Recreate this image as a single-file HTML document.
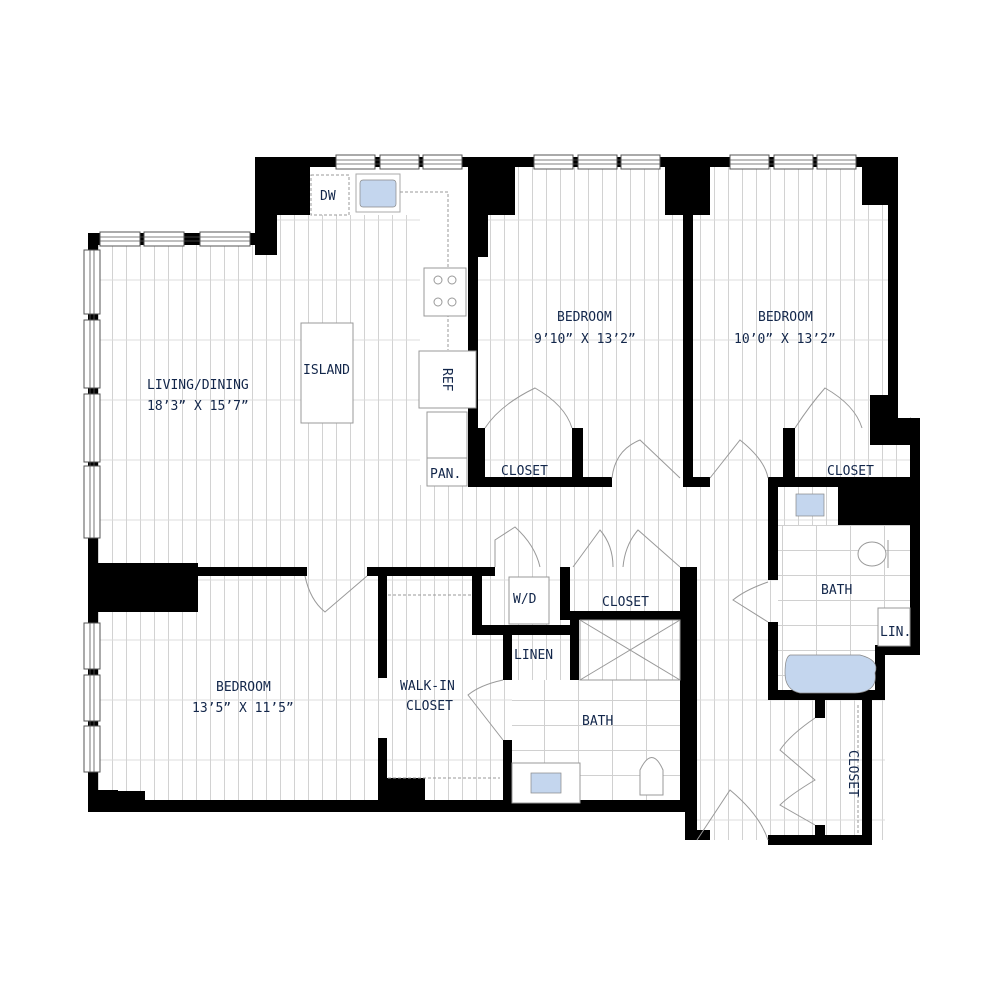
<!DOCTYPE html><html><head><style>body{margin:0;background:#fff}svg{display:block}text{font-family:"DejaVu Sans Mono","Liberation Mono",monospace;fill:#12264a;font-size:13px}</style></head><body>
<svg width="1000" height="1000" viewBox="0 0 1000 1000" xmlns="http://www.w3.org/2000/svg">
<defs>
<pattern id="pl" width="14" height="120" patternUnits="userSpaceOnUse"><rect width="14" height="120" fill="#fff"/><line x1="0.5" y1="0" x2="0.5" y2="120" stroke="#d2d2d2"/><line x1="0" y1="40" x2="14" y2="40" stroke="#dcdcdc"/></pattern>
<pattern id="pl2" width="28" height="120" patternUnits="userSpaceOnUse"><line x1="14.5" y1="0" x2="14.5" y2="120" stroke="#d2d2d2"/><line x1="0" y1="100" x2="28" y2="100" stroke="#dcdcdc"/></pattern>
<pattern id="tile" width="34" height="25" patternUnits="userSpaceOnUse"><rect width="34" height="25" fill="#fff"/><path d="M0 0.5H34M0.5 0V25" stroke="#d0d0d0"/></pattern>
</defs>
<rect x="95" y="165" width="820" height="675" fill="url(#pl)"/>
<rect x="95" y="165" width="820" height="675" fill="url(#pl2)"/>
<rect x="310" y="167" width="158" height="48" fill="#fff"/>
<rect x="420" y="215" width="48" height="270" fill="#fff"/>
<rect x="778" y="525" width="135" height="165" fill="url(#tile)"/>
<rect x="512" y="680" width="170" height="122" fill="url(#tile)"/>
<rect x="0" y="0" width="1000" height="157" fill="#fff"/>
<rect x="0" y="812" width="685" height="188" fill="#fff"/>
<rect x="0" y="845" width="1000" height="155" fill="#fff"/>
<rect x="0" y="0" width="88" height="1000" fill="#fff"/>
<rect x="920" y="0" width="80" height="1000" fill="#fff"/>
<rect x="898" y="157" width="22" height="260" fill="#fff"/>
<rect x="710" y="840" width="160" height="10" fill="#fff"/>
<rect x="885" y="655" width="40" height="200" fill="#fff"/>
<rect x="95" y="157" width="160" height="76" fill="#fff"/>
<g fill="#000">
<rect x="255" y="157" width="230" height="10"/>
<rect x="255" y="157" width="55" height="58"/>
<rect x="255" y="157" width="22" height="98"/>
<rect x="88" y="233" width="170" height="12"/>
<rect x="88" y="233" width="10" height="579"/>
<rect x="88" y="563" width="110" height="49"/>
<rect x="197" y="567" width="110" height="9"/>
<rect x="367" y="567" width="128" height="9"/>
<rect x="88" y="790" width="30" height="22"/>
<rect x="88" y="800" width="602" height="12"/>
<rect x="110" y="791" width="35" height="12"/>
<rect x="378" y="575" width="9" height="103"/>
<rect x="378" y="738" width="9" height="70"/>
<rect x="378" y="778" width="47" height="30"/>
<rect x="468" y="157" width="47" height="58"/>
<rect x="468" y="157" width="20" height="100"/>
<rect x="468" y="157" width="10" height="330"/>
<rect x="468" y="157" width="220" height="10"/>
<rect x="683" y="157" width="10" height="330"/>
<rect x="665" y="157" width="45" height="58"/>
<rect x="683" y="157" width="215" height="10"/>
<rect x="862" y="157" width="36" height="48"/>
<rect x="888" y="157" width="10" height="260"/>
<rect x="870" y="395" width="28" height="50"/>
<rect x="870" y="418" width="50" height="27"/>
<rect x="910" y="418" width="10" height="237"/>
<rect x="468" y="477" width="144" height="10"/>
<rect x="475" y="428" width="10" height="58"/>
<rect x="572" y="428" width="11" height="50"/>
<rect x="683" y="477" width="27" height="10"/>
<rect x="770" y="477" width="150" height="10"/>
<rect x="783" y="428" width="12" height="55"/>
<rect x="838" y="477" width="82" height="48"/>
<rect x="768" y="477" width="10" height="103"/>
<rect x="768" y="622" width="10" height="78"/>
<rect x="768" y="690" width="117" height="10"/>
<rect x="875" y="645" width="10" height="55"/>
<rect x="875" y="645" width="45" height="10"/>
<rect x="862" y="690" width="10" height="155"/>
<rect x="768" y="835" width="104" height="10"/>
<rect x="815" y="700" width="10" height="18"/>
<rect x="815" y="825" width="10" height="15"/>
<rect x="685" y="567" width="12" height="273"/>
<rect x="685" y="830" width="25" height="10"/>
<rect x="472" y="567" width="10" height="68"/>
<rect x="472" y="625" width="100" height="10"/>
<rect x="560" y="567" width="10" height="52"/>
<rect x="560" y="611" width="130" height="9"/>
<rect x="680" y="567" width="10" height="240"/>
<rect x="503" y="635" width="9" height="45"/>
<rect x="570" y="615" width="9" height="65"/>
<rect x="503" y="740" width="9" height="68"/>
</g>
<g fill="#fff" stroke="#555" stroke-width="1">
<rect x="336" y="155" width="39" height="14"/><rect x="380" y="155" width="39" height="14"/><rect x="423" y="155" width="39" height="14"/>
<rect x="534" y="155" width="39" height="14"/><rect x="578" y="155" width="39" height="14"/><rect x="621" y="155" width="39" height="14"/>
<rect x="730" y="155" width="39" height="14"/><rect x="774" y="155" width="39" height="14"/><rect x="817" y="155" width="39" height="14"/>
<rect x="100" y="232" width="40" height="14"/><rect x="144" y="232" width="40" height="14"/><rect x="200" y="232" width="50" height="14"/>
<rect x="84" y="250" width="16" height="64"/><rect x="84" y="320" width="16" height="68"/><rect x="84" y="394" width="16" height="68"/><rect x="84" y="466" width="16" height="72"/>
<rect x="84" y="623" width="16" height="46"/><rect x="84" y="675" width="16" height="46"/><rect x="84" y="726" width="16" height="46"/>
</g>
<g stroke="#555" stroke-width="0.8">
<path d="M336 160H462M336 164H462M534 160H660M534 164H660M730 160H856M730 164H856M100 237H250M100 241H250"/>
<path d="M90 250V538M94 250V538M90 623V772M94 623V772"/>
</g>
<g fill="none" stroke="#999" stroke-width="1">
<rect x="311" y="175" width="38" height="40" stroke-dasharray="3,2"/>
<rect x="356" y="174" width="44" height="38" stroke="#aaa"/>
<path d="M400 192H448V350" stroke-dasharray="3,2"/>
<rect x="424" y="268" width="42" height="48" fill="#fff"/>
<circle cx="438" cy="280" r="4"/><circle cx="452" cy="280" r="4"/><circle cx="438" cy="302" r="4"/><circle cx="452" cy="302" r="4"/>
<rect x="301" y="323" width="52" height="100" fill="#fff"/>
<rect x="419" y="351" width="57" height="57" fill="#fff"/>
<rect x="427" y="412" width="40" height="48" fill="#fff"/>
<rect x="427" y="458" width="40" height="28" fill="#fff"/>
<path d="M580 620H680V680H580ZM580 620L680 680M580 680L680 620"/>
<rect x="509" y="577" width="40" height="47" fill="#fff"/>
<rect x="512" y="763" width="68" height="40" fill="#fff"/>
<path d="M640 795V770Q652 745 663 770V795Z" fill="#fff"/>
<path d="M888 540V568"/><ellipse cx="872" cy="554" rx="14" ry="12" fill="#fff"/>
<rect x="878" y="608" width="32" height="38" fill="#fff"/>
<path d="M388 595H472M388 778H500M858 705V835" stroke-dasharray="3,2"/>
<path d="M305 576Q310 600 325 612L367 576M495 567V540L515 527Q535 545 540 567M573 567L600 530Q613 545 613 567M623 567Q625 545 638 530L680 567M612 478Q615 450 640 440L680 478M710 478L740 440Q765 460 768 478M485 428Q500 405 535 388Q565 405 572 428M795 428Q810 405 825 388Q855 405 862 428M768 582Q745 590 733 600L768 622M503 680Q480 685 468 695L503 740M815 718Q790 735 780 750L815 780Q790 795 780 805L815 825M697 840L730 790Q760 815 768 840"/>
</g>
<g fill="#c4d6ee" stroke="#888" stroke-width="0.7">
<rect x="360" y="180" width="36" height="27" rx="3"/>
<rect x="796" y="494" width="28" height="22"/>
<rect x="531" y="773" width="30" height="20"/>
<path d="M790 655H860Q880 660 875 673Q878 692 855 693H800Q785 690 785 673Q785 657 790 655Z"/>
</g>
<text x="320" y="200">DW</text>
<text x="303" y="374">ISLAND</text>
<text x="430" y="478">PAN.</text>
<text x="147" y="389">LIVING/DINING</text>
<text x="147" y="410">18’3” X 15’7”</text>
<text x="557" y="321">BEDROOM</text>
<text x="534" y="343">9’10” X 13’2”</text>
<text x="758" y="321">BEDROOM</text>
<text x="734" y="343">10’0” X 13’2”</text>
<text x="501" y="475">CLOSET</text>
<text x="827" y="475">CLOSET</text>
<text x="821" y="594">BATH</text>
<text x="880" y="636">LIN.</text>
<text x="513" y="603">W/D</text>
<text x="602" y="606">CLOSET</text>
<text x="514" y="659">LINEN</text>
<text x="582" y="725">BATH</text>
<text x="216" y="691">BEDROOM</text>
<text x="192" y="712">13’5” X 11’5”</text>
<text x="400" y="690">WALK-IN</text>
<text x="406" y="710">CLOSET</text>
<text transform="translate(849 750) rotate(90)">CLOSET</text>
<text transform="translate(443 368) rotate(90)">REF</text>
</svg></body></html>
